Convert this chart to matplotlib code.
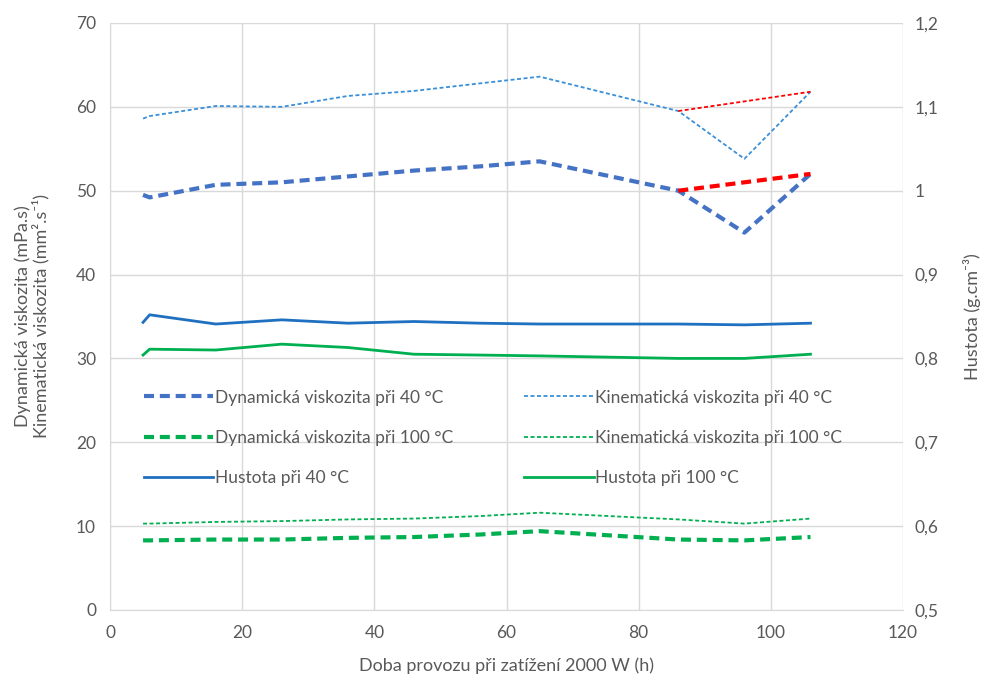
import matplotlib
matplotlib.use('Agg')
import matplotlib.pyplot as plt
from matplotlib.ticker import FixedLocator, FuncFormatter

plt.rcParams['font.family'] = ['Lato', 'DejaVu Sans']

# Hours of operation at 2000 W load
hours = [5, 6, 16, 26, 36, 46, 56, 65, 86, 96, 106]

# Viscosities (left axis)
dyn_40 = [49.5, 49.2, 50.7, 51.0, 51.7, 52.4, 52.9, 53.5, 50.0, 45.0, 52.0]
kin_40 = [58.6, 58.9, 60.1, 60.0, 61.3, 61.9, 62.8, 63.6, 59.5, 53.8, 61.8]
dyn_100 = [8.3, 8.3, 8.4, 8.4, 8.6, 8.7, 9.0, 9.4, 8.4, 8.3, 8.7]
kin_100 = [10.3, 10.3, 10.5, 10.6, 10.8, 10.9, 11.2, 11.6, 10.8, 10.3, 10.9]

# Alternative end segment (red)
alt_hours = [86, 106]
alt_dyn_40 = [50.0, 52.0]
alt_kin_40 = [59.5, 61.8]

# Densities (right axis)
hus_40 = [0.843, 0.852, 0.841, 0.846, 0.842, 0.844, 0.842, 0.841, 0.841, 0.840, 0.842]
hus_100 = [0.804, 0.811, 0.810, 0.817, 0.813, 0.805, 0.804, 0.803, 0.800, 0.800, 0.805]

grey = '#595959'
grid = '#d9d9d9'
thick_dash = (0, (2.4, 1.4))
thin_dash = (0, (2.2, 1.4))

fig = plt.figure(figsize=(9.84, 6.82), dpi=100)
ax = fig.add_axes([0.1118, 0.1056, 0.8059, 0.8607])
ax2 = ax.twinx()

ax.set_xlim(0, 120)
ax.set_ylim(0, 70)
ax2.set_ylim(0.5, 1.2)
ax.set_xticks(range(0, 121, 20))
ax.set_yticks(range(0, 71, 10))
ax2.yaxis.set_major_locator(FixedLocator([0.5, 0.6, 0.7, 0.8, 0.9, 1.0, 1.1, 1.2]))
ax2.yaxis.set_major_formatter(FuncFormatter(lambda v, p: ('%g' % round(v, 1)).replace('.', ',')))

ax.grid(True, color=grid, linewidth=1)
ax.set_axisbelow(True)
for a in (ax, ax2):
    for s in a.spines.values():
        s.set_visible(False)
    a.tick_params(length=0, colors=grey, labelsize=12.5)
ax.spines['left'].set_visible(True)
ax.spines['left'].set_color(grid)
ax.spines['bottom'].set_visible(True)
ax.spines['bottom'].set_color(grid)
ax.tick_params(axis='x', pad=11)
ax.tick_params(axis='y', pad=10)
ax2.tick_params(axis='y', pad=8)

l1, = ax.plot(hours, dyn_40, color='#4472C4', lw=3.0, ls=thick_dash,
              label='Dynamická viskozita při 40 °C')
l2, = ax.plot(hours, dyn_100, color='#00B050', lw=3.0, ls=thick_dash,
              label='Dynamická viskozita při 100 °C')
l4, = ax.plot(hours, kin_40, color='#3A8FD9', lw=1.3, ls=thin_dash,
              label='Kinematická viskozita při 40 °C')
l5, = ax.plot(hours, kin_100, color='#00B050', lw=1.3, ls=thin_dash,
              label='Kinematická viskozita při 100 °C')
ax.plot(alt_hours, alt_dyn_40, color='#FF0000', lw=3.0, ls=thick_dash)
ax.plot(alt_hours, alt_kin_40, color='#FF0000', lw=1.3, ls=thin_dash)

l3, = ax2.plot(hours, hus_40, color='#1F70C1', lw=2.0, label='Hustota při 40 °C')
l6, = ax2.plot(hours, hus_100, color='#00B050', lw=2.0, label='Hustota při 100 °C')

ax.set_xlabel('Doba provozu při zatížení 2000 W (h)', color=grey, fontsize=13, labelpad=12)
ax.set_ylabel('Dynamická viskozita (mPa.s)\nKinematická viskozita (mm².s⁻¹)',
              color=grey, fontsize=13, linespacing=1.1, labelpad=19)
ax2.set_ylabel('Hustota (g.cm⁻³)', color=grey, fontsize=13, labelpad=18)

handles = [l1, l2, l3, l4, l5, l6]
leg = ax2.legend(handles, [h.get_label() for h in handles],
                 ncol=2, frameon=False, loc='center left',
                 bbox_to_anchor=(0.130, 0.358), bbox_transform=fig.transFigure,
                 fontsize=12.5, handlelength=4.0, handletextpad=0.1,
                 columnspacing=4.1, labelspacing=1.4, labelcolor=grey)

fig.savefig('out.png', dpi=100)
